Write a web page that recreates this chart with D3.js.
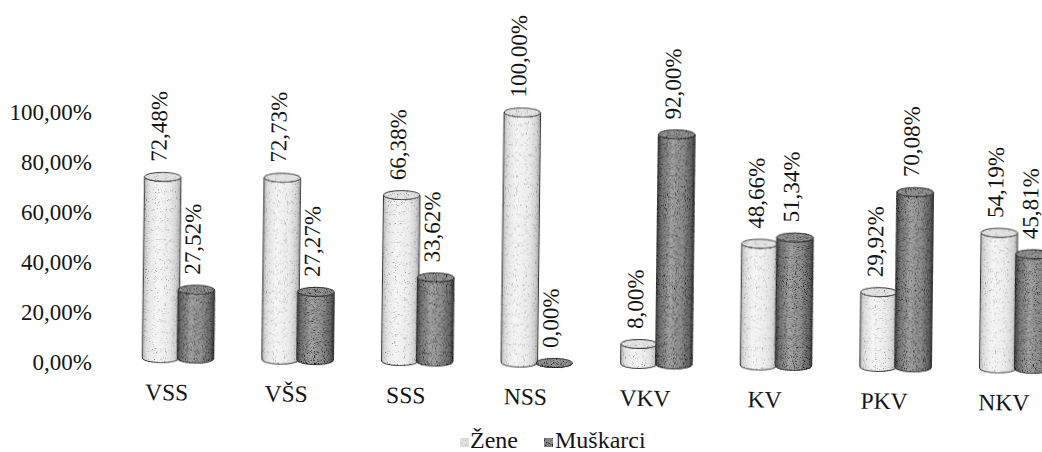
<!DOCTYPE html>
<html><head><meta charset="utf-8">
<script src="https://cdn.jsdelivr.net/npm/d3@7"></script>
<style>
body{margin:0;background:#fff}
svg{display:block}
</style>
</head><body>
<svg id="c" width="1042" height="452"></svg>
<script>
const categories = ["VSS","VŠS","SSS","NSS","VKV","KV","PKV","NKV"];
const seriesNames = ["Žene","Muškarci"];
const zene = [72.48, 72.73, 66.38, 100.00, 8.00, 48.66, 29.92, 54.19];
const muskarci = [27.52, 27.27, 33.62, 0.00, 92.00, 51.34, 70.08, 45.81];
const yTicks = [0, 20, 40, 60, 80, 100];

const FONT = '"Liberation Serif", monospace';
const svg = d3.select("#c");

const loc = d3.formatLocale({decimal: ",", thousands: ".", grouping: [3], currency: ["", ""]});
const fmt = v => loc.format(".2f")(v) + "%";

const x0 = d3.scaleBand().domain(categories).range([118.2, 1075]).paddingInner(0.415).paddingOuter(0.2075);
const x1 = d3.scaleBand().domain(seriesNames).range([0, x0.bandwidth()]);
const y = d3.scaleLinear().domain([0, 100]).range([362, 112]);

// defs
const defs = svg.append("defs");
function grad(id, stops) {
  const g = defs.append("linearGradient").attr("id", id).attr("x1", "0").attr("x2", "1").attr("y1", "0").attr("y2", "0");
  stops.forEach(s => g.append("stop").attr("offset", s[0]).attr("stop-color", s[1]));
}
grad("gZ", [[0, "#b4b4b4"], [0.1, "#dedede"], [0.35, "#f6f6f6"], [0.7, "#ececec"], [0.9, "#d2d2d2"], [1, "#a6a6a6"]]);
grad("gM", [[0, "#4a4a4a"], [0.12, "#7a7a7a"], [0.38, "#a8a8a8"], [0.7, "#909090"], [0.9, "#6a6a6a"], [1, "#3c3c3c"]]);
function grain(id, a, b) {
  const f = defs.append("filter").attr("id", id).attr("x", "-5%").attr("y", "-5%").attr("width", "110%").attr("height", "110%");
  f.append("feTurbulence").attr("type", "fractalNoise").attr("baseFrequency", "1.1").attr("numOctaves", 1).attr("seed", 4).attr("result", "noise");
  f.append("feColorMatrix").attr("in", "noise").attr("type", "matrix")
    .attr("values", `0 0 0 0 0  0 0 0 0 0  0 0 0 0 0  ${a} 0 0 0 ${b}`).attr("result", "dots");
  f.append("feComposite").attr("in", "dots").attr("in2", "SourceGraphic").attr("operator", "in").attr("result", "clipped");
  const fm = f.append("feMerge");
  fm.append("feMergeNode").attr("in", "SourceGraphic");
  fm.append("feMergeNode").attr("in", "clipped");
}
grain("grainZ", -4, 1.6);
grain("grainM", -4, 2.1);

const fills = {"Žene": "url(#gZ)", "Muškarci": "url(#gM)"};
const tops = {"Žene": "#e2e2e2", "Muškarci": "#959595"};
const grains = {"Žene": "url(#grainZ)", "Muškarci": "url(#grainM)"};

// y axis (not tilted), tick labels drawn from the y scale
const yAxis = d3.axisLeft(y).tickValues(yTicks).tickSize(0).tickPadding(0).tickFormat(fmt);
const ag = svg.append("g").attr("transform", "translate(92,0)").call(yAxis);
ag.attr("font-family", null).attr("font-size", null);
ag.select(".domain").remove();
ag.selectAll("text").attr("font-size", 23).style("font-family", FONT).attr("fill", "#151515");

// plot group with slight scan tilt
const plot = svg.append("g").attr("transform", "translate(0,2) rotate(0.7,640,362)");

const rows = [];
categories.forEach((c, i) => {
  rows.push({cat: c, s: "Žene", v: zene[i]});
  rows.push({cat: c, s: "Muškarci", v: muskarci[i]});
});

const ry = 4.5;
const bw = x1.bandwidth() + 1.5;
function cylPath(x, yt, yb, w) {
  const rx = w / 2;
  return `M${x},${yt} L${x},${yb} A${rx},${ry} 0 0 0 ${x + w},${yb} L${x + w},${yt} A${rx},${ry} 0 0 1 ${x},${yt} Z`;
}

const bars = plot.selectAll("g.bar").data(rows).join("g").attr("class", "bar").attr("filter", d => grains[d.s]);
bars.append("path")
  .attr("d", d => cylPath(x0(d.cat) + x1(d.s) - 0.75, y(d.v), y(0), bw))
  .attr("fill", d => fills[d.s])
  .attr("stroke", "#333").attr("stroke-width", 1);
bars.append("ellipse")
  .attr("cx", d => x0(d.cat) + x1(d.s) - 0.75 + bw / 2)
  .attr("cy", d => y(d.v))
  .attr("rx", bw / 2).attr("ry", ry)
  .attr("fill", d => tops[d.s])
  .attr("stroke", "#333").attr("stroke-width", 1);

// value labels
plot.selectAll("text.val").data(rows).join("text").attr("class", "val")
  .attr("transform", d => `translate(${x0(d.cat) + x1(d.s) + x1.bandwidth() / 2 + 3.5},${y(d.v) - 15}) rotate(-90)`)
  .attr("font-size", 23)
  .style("font-family", FONT)
  .attr("fill", "#151515")
  .attr("text-anchor", "start")
  .text(d => fmt(d.v));

// category labels
plot.selectAll("text.cat").data(categories).join("text").attr("class", "cat")
  .attr("x", d => x0(d) + x0.bandwidth() / 2 - 11)
  .attr("y", y(0) + 42)
  .attr("text-anchor", "middle")
  .attr("font-size", 23.5)
  .style("font-family", FONT)
  .attr("fill", "#151515")
  .text(d => d);

// legend
const lg = svg.append("g");
const legendItems = [
  {s: "Žene", mx: 460, tx: 470},
  {s: "Muškarci", mx: 544, tx: 555}
];
lg.selectAll("rect").data(legendItems).join("rect")
  .attr("x", d => d.mx).attr("y", 438).attr("width", 9).attr("height", 9)
  .attr("fill", d => d.s === "Žene" ? "#e0e0e0" : "#8a8a8a")
  .attr("filter", d => grains[d.s]);
lg.selectAll("text").data(legendItems).join("text")
  .attr("x", d => d.tx).attr("y", 448)
  .attr("font-size", 24)
  .style("font-family", FONT)
  .attr("fill", "#151515")
  .text(d => d.s);
</script>
</body></html>
